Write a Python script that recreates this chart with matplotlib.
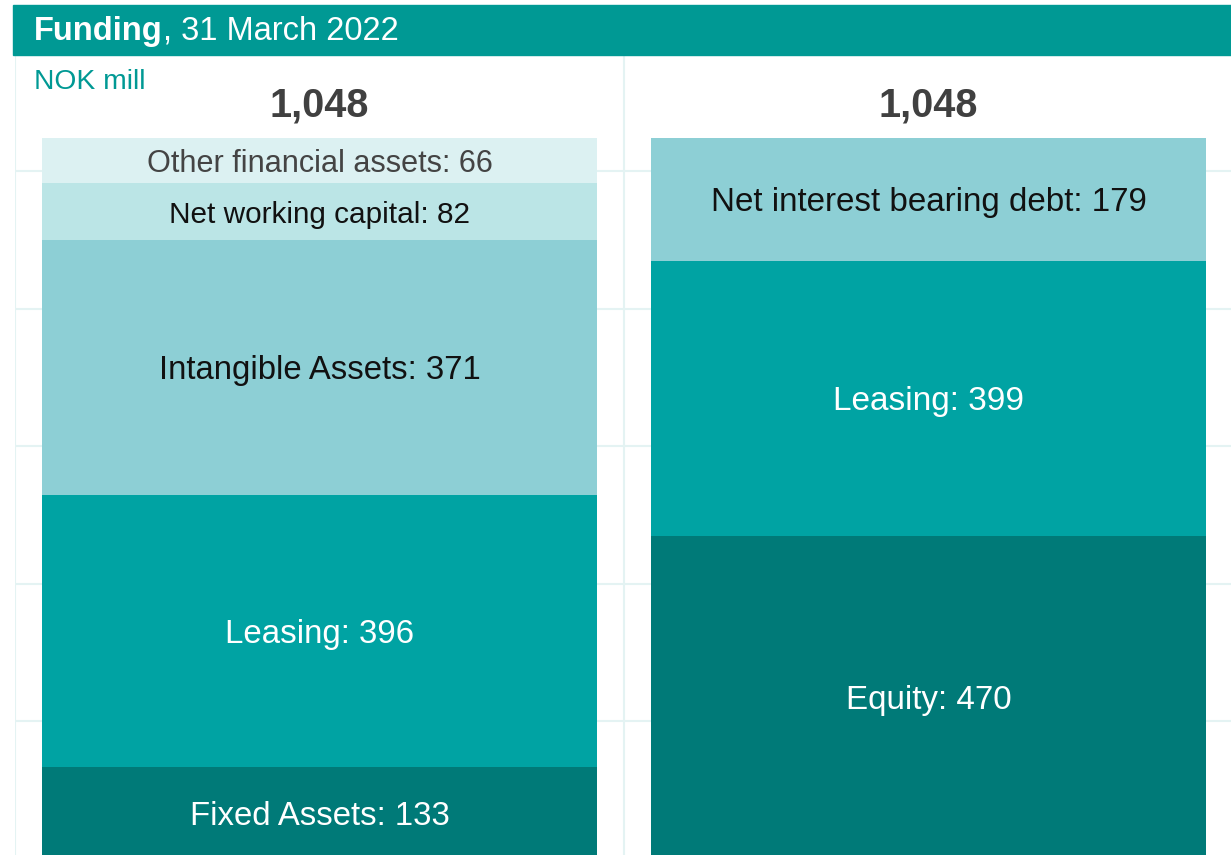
import matplotlib
matplotlib.use("Agg")
import matplotlib.pyplot as plt
from matplotlib.patches import Rectangle

plt.rcParams["font.family"] = ["Liberation Sans", "DejaVu Sans"]

# NOK mill, 31 March 2022
columns = ["Assets", "Funding"]
asset_labels = ["Fixed Assets", "Leasing", "Intangible Assets",
                "Net working capital", "Other financial assets"]
asset_values = [133, 396, 371, 82, 66]
asset_colors = ["#007A78", "#00A3A3", "#8DCFD5", "#BBE5E6", "#DCF1F2"]
asset_text = ["white", "white", "#111111", "#111111", "#444444"]

funding_labels = ["Equity", "Leasing", "Net interest bearing debt"]
funding_values = [470, 399, 179]
funding_colors = ["#007A78", "#00A3A3", "#8DCFD5"]
funding_text = ["white", "white", "#111111"]

W, H = 1231, 855
fig = plt.figure(figsize=(W / 100, H / 100), dpi=100)

# plot area: zero line sits just below the bottom edge
px_per_unit = 721 / 1048
ax = fig.add_axes([15 / W, (H - 859) / H, 1218 / W, 804 / H])
ax.set_ylim(0, 804 / px_per_unit)
ax.set_xlim(-0.5, 1.5)

grid_col = "#E4F3F3"
ax.set_xticks([-0.5, 0.5, 1.5])
ax.set_yticks([200, 400, 600, 800, 1000])
ax.grid(True, color=grid_col, linewidth=1.5)
ax.set_axisbelow(True)
ax.tick_params(length=0, labelleft=False, labelbottom=False)
for s in ax.spines.values():
    s.set_visible(False)

bar_w = 555 / 609


def stack(x, labels, values, colors, tcolors, sizes):
    bottom = 0
    for lab, v, c, tc, fs in zip(labels, values, colors, tcolors, sizes):
        ax.bar(x, v, bottom=bottom, width=bar_w, color=c, linewidth=0, zorder=2)
        ax.annotate(f"{lab}: {v}", (x, bottom + v / 2), xytext=(0, -3),
                    textcoords="offset pixels", ha="center", va="center",
                    color=tc, fontsize=fs, zorder=3)
        bottom += v
    ax.annotate(f"{bottom:,}", (x, bottom + 51), xytext=(0, -3),
                textcoords="offset pixels", ha="center", va="center",
                color="#404040", fontsize=28.5, fontweight="bold")


stack(0, asset_labels, asset_values, asset_colors, asset_text,
      [23.7, 23.8, 23.7, 21.4, 22.1])
stack(1, funding_labels, funding_values, funding_colors, funding_text,
      [23.9, 24.0, 23.9])

# title band
fig.patches.append(Rectangle((13 / W, (H - 55) / H), (W - 13) / W, 50 / H,
                             transform=fig.transFigure, color="#009994",
                             zorder=5))
t1 = fig.text(34 / W, (H - 40) / H, "Funding", color="white", fontsize=23.5,
              fontweight="bold", va="baseline", zorder=6)
fig.canvas.draw()
bb = t1.get_window_extent()
fig.text(bb.x1 / W, (H - 40) / H, ", 31 March 2022", color="white",
         fontsize=23.5, va="baseline", zorder=6)

fig.text(34 / W, (H - 89) / H, "NOK mill", color="#009994", fontsize=20.3,
         va="baseline")

fig.savefig("out.png", dpi=100)
